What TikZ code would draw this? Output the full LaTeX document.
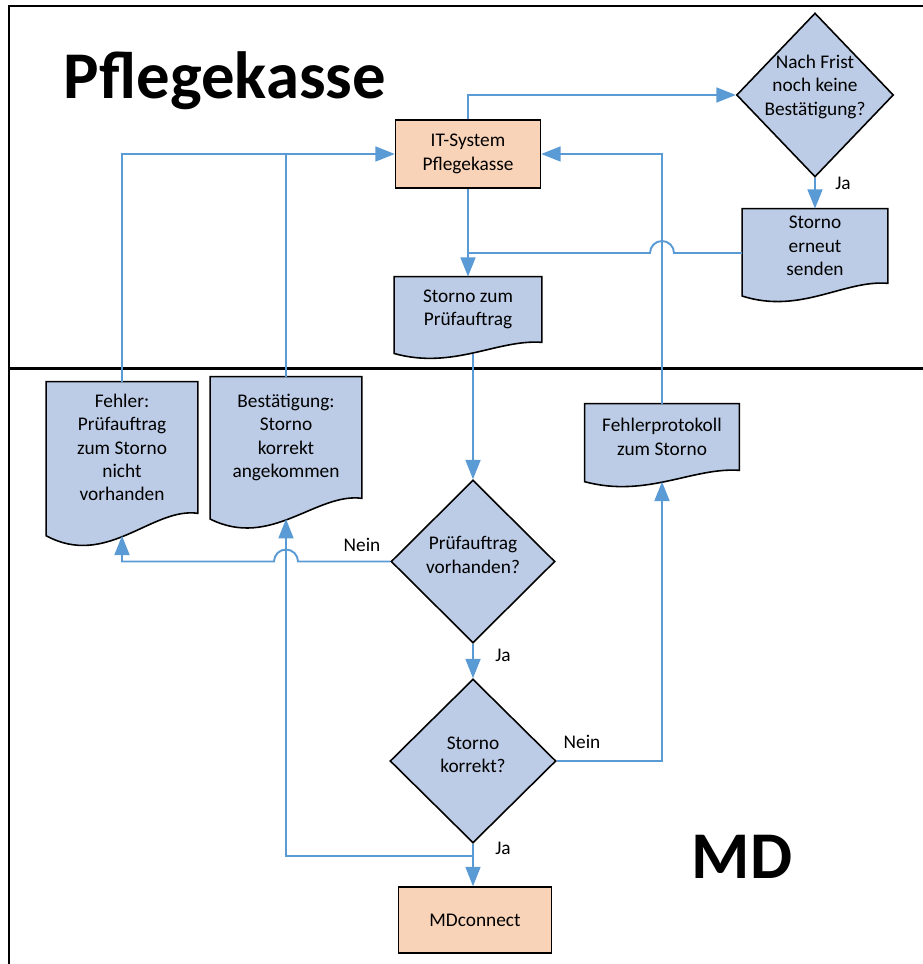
\documentclass[tikz,border=0pt]{standalone}
\usepackage{fontspec}
\setmainfont{Carlito}
\usetikzlibrary{arrows.meta,shapes.geometric,calc,backgrounds}
\definecolor{flowblue}{HTML}{5B9BD5}
\definecolor{boxblue}{HTML}{BDCCE6}
\definecolor{boxpeach}{HTML}{F9D3B8}
\newcommand{\diatext}[1]{\smash{\makebox[0pt]{\begin{tabular}{@{}c@{}}#1\end{tabular}}}}

\begin{document}
\begin{tikzpicture}[x=0.02cm,y=-0.02cm,
    font=\fontsize{11}{13.3}\selectfont,
    >={Triangle[length=11pt,width=8.5pt]},
    flow/.style={draw=flowblue,line width=1.1pt},
    proc/.style={draw=black,line width=0.9pt,fill=boxpeach,align=center,inner sep=2pt},
    decision/.style={shape=diamond,draw=black,line width=0.9pt,fill=boxblue,inner sep=0pt},
    docbox/.style={align=center,inner sep=0pt},
    docline/.style={draw=black,line width=0.9pt,fill=boxblue},
    laneline/.style={draw=black,line width=1.7pt},
    lbl/.style={inner sep=1pt},
    lanetitle/.style={font=\fontsize{38}{44}\selectfont\bfseries,anchor=base}]
\useasboundingbox (0,0) rectangle (923,964);

% lanes
\draw[laneline] (923,6) -- (9,6) -- (9,964);
\draw[laneline] (9,368) -- (923,368);
\node[lanetitle](pk)at(225,98){Pflegekasse};
\node[lanetitle](md)at(742,878){MD};

% nodes
\node[proc,minimum width=2.9cm,minimum height=1.36cm](itsys)at(468,154){IT-System\\Pflegekasse};
\node[decision,minimum width=3.14cm,minimum height=3.28cm](frist)at(815,95){\raisebox{0.12cm}{\diatext{Nach Frist\\noch keine\\Bestätigung?}}};
\node[docbox,minimum width=2.9cm,minimum height=1.48cm](erneut)at(815,246){Storno\\erneut\\senden};
\node[docbox,minimum width=2.94cm,minimum height=1.3cm](stornozum)at(468,309.5){Storno zum\\Prüfauftrag};
\node[docbox,minimum width=3.02cm,minimum height=2.62cm](fehler)at(122,447.5){Fehler:\\Prüfauftrag\\zum Storno\\nicht\\vorhanden};
\node[docbox,minimum width=3.02cm,minimum height=2.42cm](bestaet)at(286,437.5){Bestätigung:\\Storno\\korrekt\\angekommen};
\node[docbox,minimum width=3.08cm,minimum height=1.32cm](protokoll)at(662,437){Fehlerprotokoll\\zum Storno};
\node[decision,minimum width=3.28cm,minimum height=3.26cm](pruef)at(473,561.5){\diatext{Prüfauftrag\\vorhanden?}};
\node[decision,minimum width=3.32cm,minimum height=3.28cm](korrekt)at(473,761){\diatext{Storno\\korrekt?}};
\node[proc,minimum width=3.06cm,minimum height=1.32cm](mdconn)at(475,920){MDconnect};

% document outlines with wavy bottom
\begin{scope}[on background layer]
  \foreach \doc in {erneut,stornozum,fehler,bestaet,protokoll}
    \draw[docline] let \p1=(\doc.south west), \p2=(\doc.north east),
        \n1={\x2-\x1}, \n2={\y2-\y1} in
      (\x1,\y2) -- (\x2,\y2) -- (\x2,\y1)
      .. controls (\x1+0.7*\n1,\y1+0.05*\n2) and (\x1+0.4*\n1,\y1-0.42*\n2) .. (\x1,\y1-0.17*\n2) -- cycle;
\end{scope}
\foreach \doc in {stornozum,fehler,bestaet,protokoll}
  \coordinate (\doc-foot) at ($(\doc.south)!-0.17!(\doc.north)$);
\coordinate (erneut-in) at ([yshift=-0.14cm]erneut.west);
\coordinate (split) at ([yshift=-0.24cm]korrekt.south);

% connectors
\draw[flow,->] (itsys.north) |- (frist.west);
\draw[flow,->] (frist.south) -- (frist.south |- erneut.north);
\draw[flow,->] (itsys.south) -- (stornozum.north);
\draw[flow] (erneut-in) -- ($(protokoll.north |- erneut-in)+(12,0)$)
  arc[start angle=0,end angle=180,radius=0.24cm] -- (itsys.south |- erneut-in);
\draw[flow,->] (pruef.north |- stornozum-foot) -- (pruef.north);
\draw[flow,->] (pruef.west) -- ($(bestaet-foot |- pruef.west)+(12,0)$)
  arc[start angle=0,end angle=180,radius=0.24cm] -- (fehler-foot |- pruef.west) -- (fehler-foot);
\draw[flow,->] (pruef.south) -- (korrekt.north);
\draw[flow,->] (korrekt.east) -| (protokoll-foot);
\draw[flow,->] (korrekt.south) -- (korrekt.south |- mdconn.north);
\draw[flow,->] (split) -| (bestaet-foot);
\draw[flow,->] (protokoll.north) |- (itsys.east);
\draw[flow,->] (fehler.north) |- (itsys.west);
\draw[flow] (bestaet.north) -- (bestaet.north |- itsys.west);

% labels
\node[lbl](jaFrist)at(843,183){Ja};
\node[lbl](neinPruef)at(362,545){Nein};
\node[lbl](jaPruef)at(503,655){Ja};
\node[lbl](neinKorrekt)at(582,742){Nein};
\node[lbl](jaKorrekt)at(503,848){Ja};
\end{tikzpicture}
\end{document}
